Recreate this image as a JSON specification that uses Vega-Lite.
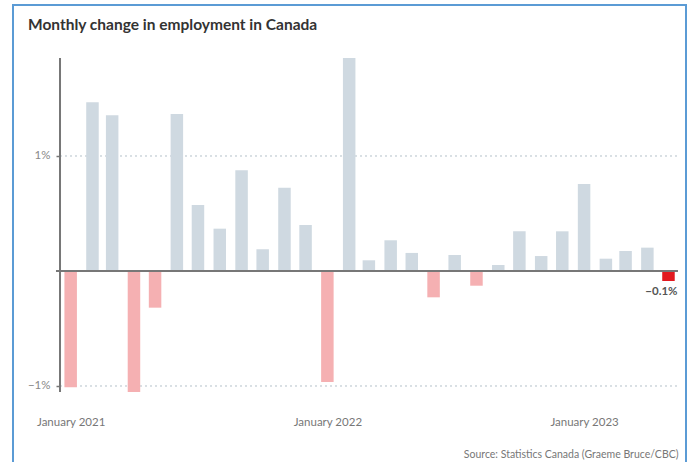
{
  "$schema": "https://vega.github.io/schema/vega-lite/v6.json",
  "width": 673,
  "height": 457,
  "autosize": {"type": "none"},
  "padding": {"left": 13, "top": 5, "right": 5, "bottom": 0},
  "background": "white",
  "title": {
    "text": "Monthly change in employment in Canada",
    "anchor": "start",
    "frame": "group",
    "dx": 15,
    "offset": -40,
    "baseline": "alphabetic",
    "font": "Lato",
    "fontSize": 15.5,
    "fontWeight": 700,
    "color": "#333333"
  },
  "config": {
    "view": {"stroke": "#5b9bd5", "strokeWidth": 2, "strokeDash": [1130, 673, 457]},
    "font": "Lato"
  },
  "data": {
    "values": [
      {"date": "2021-01-15", "value": -1.01},
      {"date": "2021-02-15", "value": 1.467},
      {"date": "2021-03-15", "value": 1.354},
      {"date": "2021-04-15", "value": -1.052},
      {"date": "2021-05-15", "value": -0.319},
      {"date": "2021-06-15", "value": 1.365},
      {"date": "2021-07-15", "value": 0.574},
      {"date": "2021-08-15", "value": 0.368},
      {"date": "2021-09-15", "value": 0.876},
      {"date": "2021-10-15", "value": 0.189},
      {"date": "2021-11-15", "value": 0.724},
      {"date": "2021-12-15", "value": 0.40},
      {"date": "2022-01-15", "value": -0.965},
      {"date": "2022-02-15", "value": 1.852},
      {"date": "2022-03-15", "value": 0.093},
      {"date": "2022-04-15", "value": 0.267},
      {"date": "2022-05-15", "value": 0.157},
      {"date": "2022-06-15", "value": -0.229},
      {"date": "2022-07-15", "value": 0.139},
      {"date": "2022-08-15", "value": -0.128},
      {"date": "2022-09-15", "value": 0.052},
      {"date": "2022-10-15", "value": 0.345},
      {"date": "2022-11-15", "value": 0.13},
      {"date": "2022-12-15", "value": 0.345},
      {"date": "2023-01-15", "value": 0.757},
      {"date": "2023-02-15", "value": 0.107},
      {"date": "2023-03-15", "value": 0.174},
      {"date": "2023-04-15", "value": 0.203},
      {"date": "2023-05-15", "value": -0.087, "latest": true, "label": "−0.1%"}
    ]
  },
  "layer": [
    {
      "data": {"values": [{"g": 1}, {"g": -1}]},
      "mark": {"type": "rule", "stroke": "#b4c0c9", "strokeWidth": 1, "strokeDash": [2, 3]},
      "encoding": {
        "y": {"field": "g", "type": "quantitative"},
        "x": {"datum": {"year": 2020, "month": 12, "date": 30, "hours": 20, "utc": true}, "type": "temporal"},
        "x2": {"datum": {"year": 2023, "month": 5, "date": 28, "hours": 12, "utc": true}}
      }
    },
    {
      "mark": {"type": "bar", "width": 12.5},
      "encoding": {
        "x": {
          "field": "date",
          "type": "temporal",
          "scale": {
            "type": "utc",
            "padding": 0,
            "domain": [
              {"year": 2020, "month": 10, "date": 25, "utc": true},
              {"year": 2023, "month": 6, "date": 8, "hours": 22, "utc": true}
            ]
          },
          "axis": {
            "orient": "bottom",
            "offset": -37,
            "domain": false,
            "ticks": false,
            "tickSize": 0,
            "grid": false,
            "labelPadding": 0,
            "labelBaseline": "alphabetic",
            "labelFont": "Lato",
            "labelFontSize": 11.5,
            "labelColor": "#777777",
            "labelFlush": false,
            "labelOverlap": false,
            "format": "%B %Y",
            "values": [
              {"year": 2021, "month": 1, "date": 15, "utc": true},
              {"year": 2022, "month": 1, "date": 15, "utc": true},
              {"year": 2023, "month": 1, "date": 15, "utc": true}
            ],
            "title": "Source: Statistics Canada (Graeme Bruce/CBC)",
            "titleX": 665,
            "titleY": 32,
            "titleAlign": "right",
            "titleAnchor": "end",
            "titleBaseline": "alphabetic",
            "titleFont": "Lato",
            "titleFontSize": 10.5,
            "titleFontWeight": "normal",
            "titleColor": "#777777"
          }
        },
        "y": {
          "field": "value",
          "type": "quantitative",
          "scale": {"domain": [-1.661, 2.313], "nice": false, "zero": false, "padding": 0},
          "axis": {
            "values": [-1, 1],
            "labelExpr": "datum.value > 0 ? '1%' : '−1%'",
            "offset": -47,
            "domain": false,
            "grid": false,
            "tickSize": 4,
            "tickColor": "#777777",
            "tickWidth": 1.5,
            "labelPadding": 6,
            "labelFont": "Lato",
            "labelFontSize": 11.5,
            "labelColor": "#888888",
            "title": null
          }
        },
        "y2": {"datum": 0},
        "color": {
          "condition": [
            {"test": "datum.latest", "value": "#e2191f"},
            {"test": "datum.value < 0", "value": "#f5b0b2"}
          ],
          "value": "#cfd9e1"
        }
      }
    },
    {
      "data": {"values": [{"z": 0}]},
      "mark": {"type": "rule", "stroke": "#777777", "strokeWidth": 2},
      "encoding": {
        "y": {"field": "z", "type": "quantitative"},
        "x": {"datum": {"year": 2020, "month": 12, "date": 25, "hours": 3, "utc": true}, "type": "temporal"},
        "x2": {"datum": {"year": 2023, "month": 5, "date": 28, "hours": 12, "utc": true}}
      }
    },
    {
      "mark": {"type": "rule", "stroke": "#777777", "strokeWidth": 2},
      "encoding": {
        "x": {"datum": {"year": 2020, "month": 12, "date": 30, "hours": 20, "utc": true}, "type": "temporal"},
        "y": {"aggregate": "min", "field": "value", "type": "quantitative"},
        "y2": {"aggregate": "max", "field": "value"}
      }
    },
    {
      "transform": [{"filter": "datum.label"}],
      "mark": {"type": "text", "align": "right", "dx": 9, "dy": 14, "baseline": "alphabetic", "font": "Lato", "fontSize": 11.5, "fontWeight": 700, "color": "#555555"},
      "encoding": {
        "x": {"field": "date", "type": "temporal"},
        "y": {"field": "value", "type": "quantitative"},
        "text": {"field": "label"}
      }
    }
  ]
}
